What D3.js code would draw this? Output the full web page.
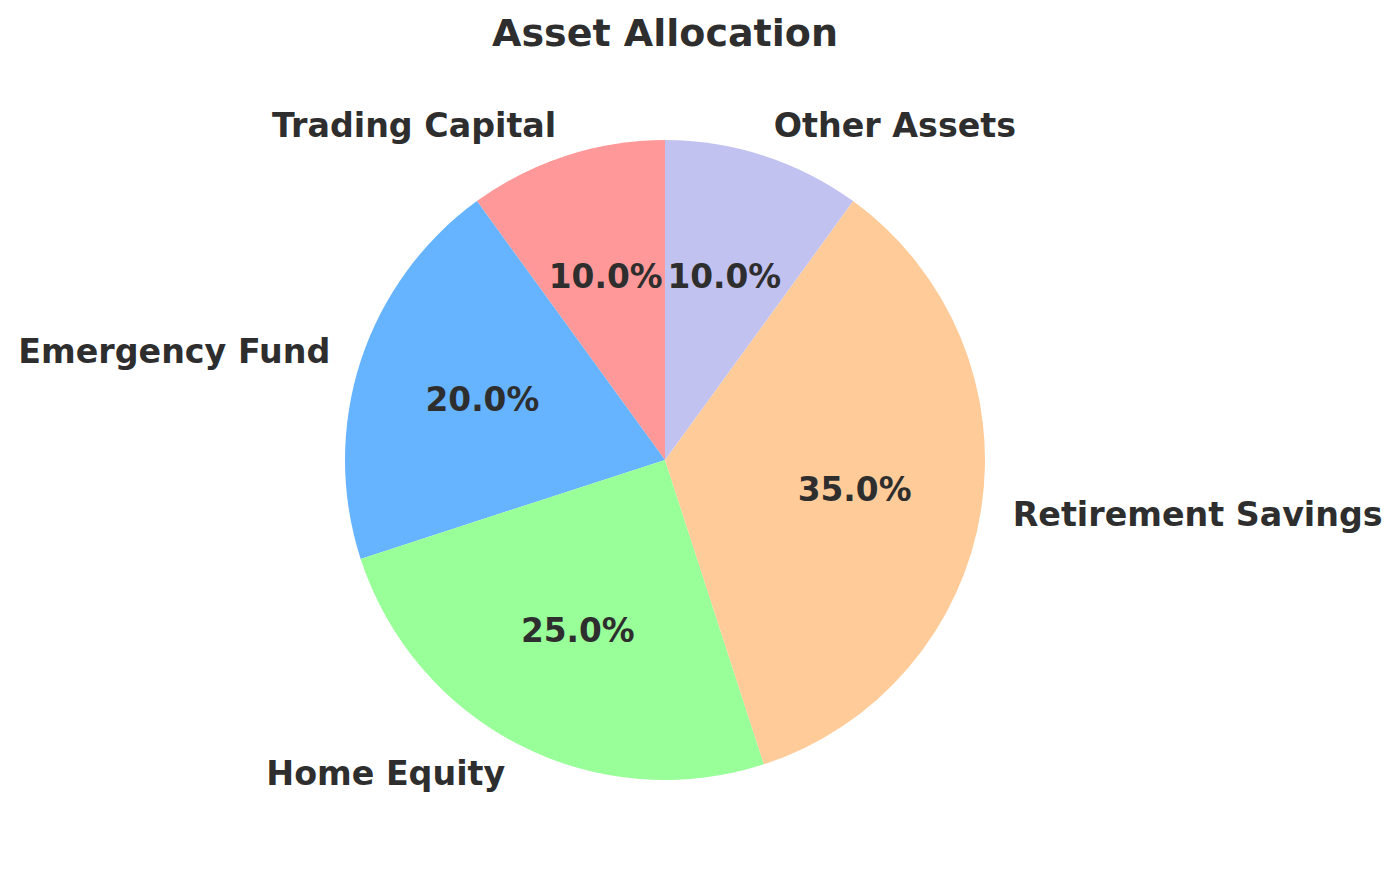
<!DOCTYPE html>
<html>
<head>
<meta charset="utf-8">
<script src="https://cdn.jsdelivr.net/npm/d3@7"></script>
<style>
  html, body { margin: 0; padding: 0; background: #fff; }
  text { font-family: "DejaVu Sans", sans-serif; font-weight: bold; fill: #2e2e2e; }
</style>
</head>
<body>
<svg id="chart" width="1400" height="878"></svg>
<script>
// data
const categories = ['Trading Capital', 'Emergency Fund', 'Home Equity', 'Retirement Savings', 'Other Assets'];
const shares = [10, 20, 25, 35, 10];
const colors = ['#ff9999', '#66b3ff', '#99ff99', '#ffcc99', '#c2c2f0'];

const width = 1400, height = 878;
const cx = 665, cy = 460, radius = 320;

const svg = d3.select('#chart');

svg.append('text')
    .attr('x', 665)
    .attr('y', 46)
    .attr('text-anchor', 'middle')
    .style('font-size', '38px')
    .text('Asset Allocation');

const total = d3.sum(shares);

// matplotlib style: start at top, go counter-clockwise
const pie = d3.pie().sort(null).startAngle(0).endAngle(-2 * Math.PI);
const arcs = pie(shares);

const arc = d3.arc().innerRadius(0).outerRadius(radius);

const g = svg.append('g').attr('transform', `translate(${cx},${cy})`);

g.selectAll('path.slice')
    .data(arcs)
    .join('path')
    .attr('class', 'slice')
    .attr('d', arc)
    .attr('fill', (d, i) => colors[i]);

const mid = (d) => (d.startAngle + d.endAngle) / 2;

// category labels at 1.1 radius
g.selectAll('text.label')
    .data(arcs)
    .join('text')
    .attr('class', 'label')
    .attr('x', (d) => 1.1 * radius * Math.sin(mid(d)))
    .attr('y', (d) => -1.1 * radius * Math.cos(mid(d)))
    .attr('dy', '0.34em')
    .attr('text-anchor', (d) => Math.sin(mid(d)) < 0 ? 'end' : 'start')
    .style('font-size', '33.3px')
    .text((d, i) => categories[i]);

// percentages at 0.6 radius
g.selectAll('text.pct')
    .data(arcs)
    .join('text')
    .attr('class', 'pct')
    .attr('x', (d) => 0.6 * radius * Math.sin(mid(d)))
    .attr('y', (d) => -0.6 * radius * Math.cos(mid(d)))
    .attr('dy', '0.32em')
    .attr('text-anchor', 'middle')
    .style('font-size', '32.8px')
    .text((d) => (d.value / total * 100).toFixed(1) + '%');
</script>
</body>
</html>
